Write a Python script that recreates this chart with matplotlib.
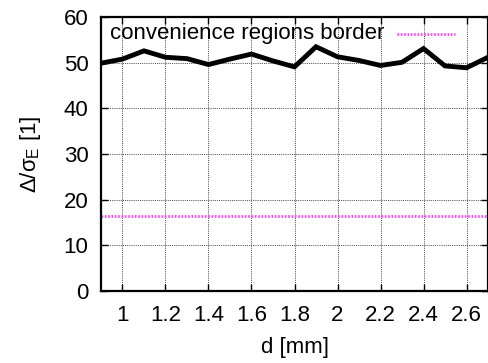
import matplotlib
matplotlib.use("Agg")
import matplotlib.pyplot as plt

plt.rcParams['font.family'] = ['Liberation Sans', 'DejaVu Sans']
plt.rcParams['mathtext.fontset'] = 'custom'
plt.rcParams['mathtext.rm'] = 'Liberation Sans'
plt.rcParams['mathtext.it'] = 'Liberation Sans'

d_mm = [0.9, 1.0, 1.1, 1.2, 1.3, 1.4, 1.5, 1.6, 1.7, 1.8, 1.9, 2.0, 2.1, 2.2, 2.3, 2.4, 2.5, 2.6, 2.7]
ratio = [49.9, 50.8, 52.6, 51.2, 50.9, 49.6, 50.8, 51.9, 50.4, 49.1, 53.5, 51.3, 50.5, 49.4, 50.1, 53.1, 49.3, 48.9, 51.2]
border_value = 16.4
x_ticks = [1, 1.2, 1.4, 1.6, 1.8, 2, 2.2, 2.4, 2.6]
x_ticklabels = ['1', '1.2', '1.4', '1.6', '1.8', '2', '2.2', '2.4', '2.6']
y_ticks = [0, 10, 20, 30, 40, 50, 60]

FS = 16

fig = plt.figure(figsize=(4.89, 3.63), dpi=100)
ax = fig.add_axes([0.2065, 0.198, 0.7915, 0.755])

ax.plot(d_mm, ratio, color='black', lw=3.5, solid_joinstyle='miter', zorder=3)
ax.axhline(border_value, color='#ff44ff', lw=2.0, ls=(0, (0.6, 0.6)), zorder=2)

# legend entry drawn manually in axes coords
ax.plot([0.765, 0.915], [0.94, 0.94], transform=ax.transAxes, color='#ff44ff',
        lw=2.0, ls=(0, (0.6, 0.6)), zorder=4)
ax.text(0.732, 0.94, 'convenience regions border', transform=ax.transAxes,
        ha='right', va='center', fontsize=FS, zorder=4)

ax.set_xlim(0.9, 2.7)
ax.set_ylim(0, 60)
ax.set_xticks(x_ticks)
ax.set_xticklabels(x_ticklabels)
ax.set_yticks(y_ticks)
ax.tick_params(direction='in', labelsize=FS, length=5, width=1, top=True, right=True)
ax.tick_params(axis='x', pad=10)
ax.tick_params(axis='y', pad=9)
ax.grid(True, color='#444444', ls=(0, (1, 1.2)), lw=0.7)
for s in ax.spines.values():
    s.set_linewidth(1.6)

ax.set_xlabel('d [mm]', fontsize=FS, labelpad=8)
ax.set_ylabel(r'$\mathregular{\Delta/\sigma_E}$ [1]', fontsize=FS, labelpad=15)

fig.savefig('out.png', dpi=100)
